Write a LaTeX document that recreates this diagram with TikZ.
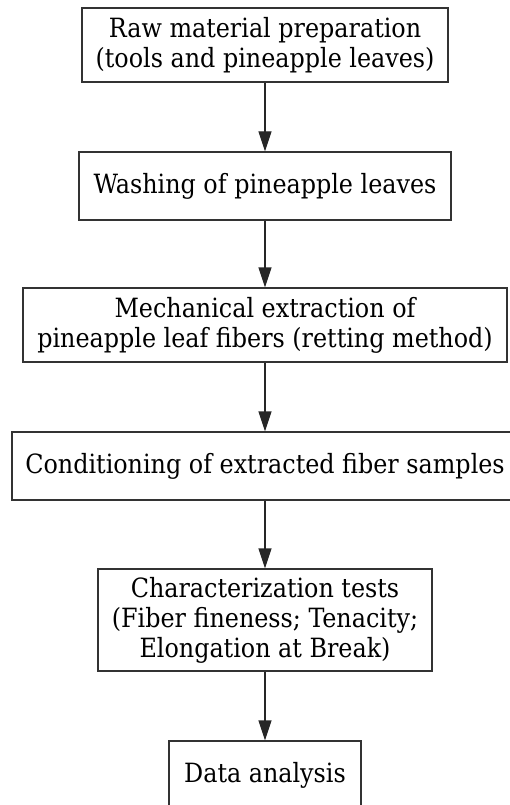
\documentclass[tikz,border=0pt]{standalone}
\usepackage{fontspec}
\setmainfont{DejaVu Serif Condensed}
\usetikzlibrary{arrows.meta}
\begin{document}
\begin{tikzpicture}[x=1pt,y=-1pt,
  stepbox/.style={draw=black!80,line width=1.3pt,rectangle,align=center,inner sep=0pt,
    font=\fontsize{26.5}{30}\selectfont},
  flow/.style={draw=black!85,line width=1.3pt,-{Triangle[length=20pt,width=13pt]}}]
\useasboundingbox (0,0) rectangle (510,805);
\node[stepbox,minimum width=366pt,minimum height=74pt] (n1) at (265,45) {Raw material preparation\\(tools and pineapple leaves)};
\node[stepbox,minimum width=372pt,minimum height=68pt] (n2) at (265,186) {Washing of pineapple leaves};
\node[stepbox,minimum width=484pt,minimum height=74pt] (n3) at (265,325) {Mechanical extraction of\\pineapple leaf fibers (retting method)};
\node[stepbox,minimum width=506pt,minimum height=68pt] (n4) at (265,466) {Conditioning of extracted fiber samples};
\node[stepbox,minimum width=334pt,minimum height=102pt] (n5) at (265,620) {Characterization tests\\(Fiber fineness; Tenacity;\\Elongation at Break)};
\node[stepbox,minimum width=192pt,minimum height=68pt] (n6) at (265,775) {Data analysis};
\draw[flow] (n1) -- (n2);
\draw[flow] (n2) -- (n3);
\draw[flow] (n3) -- (n4);
\draw[flow] (n4) -- (n5);
\draw[flow] (n5) -- (n6);
\end{tikzpicture}
\end{document}
